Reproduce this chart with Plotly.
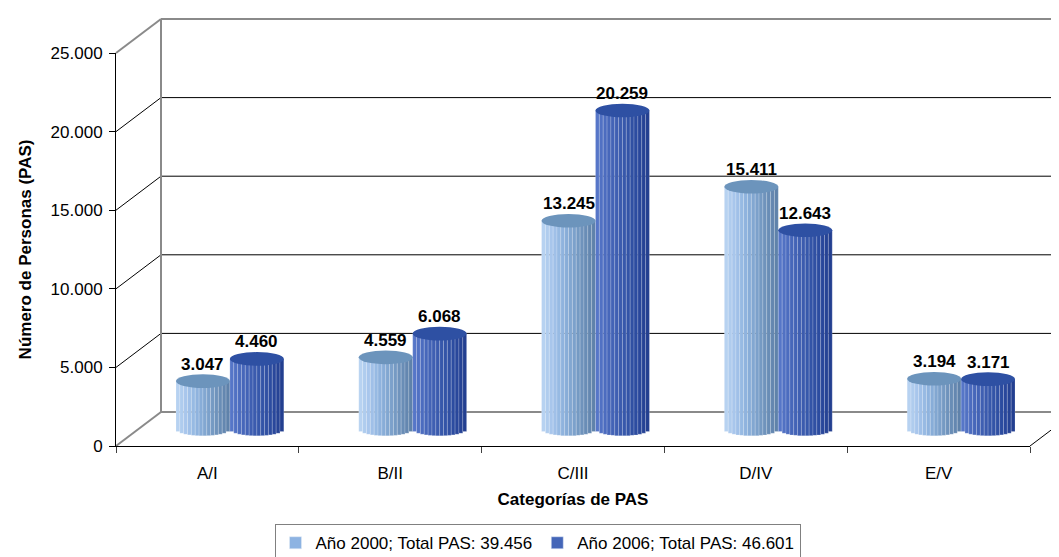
import numpy as np
import plotly.graph_objects as go

# ---------------- data ----------------
categories = ["A/I", "B/II", "C/III", "D/IV", "E/V"]
values_2000 = [3047, 4559, 13245, 15411, 3194]
values_2006 = [4460, 6068, 20259, 12643, 3171]
series_names = ["Año 2000; Total PAS: 39.456", "Año 2006; Total PAS: 46.601"]
y_ticks = [0, 5000, 10000, 15000, 20000, 25000]
x_title = "Categorías de PAS"
y_title = "Número de Personas (PAS)"

# ---------------- geometry / style ----------------
W, H = 1059, 557
ML, MR, MT, MB = 108, 37, 45, 119
PW, PH = W - ML - MR, H - MT - MB
YMAX = y_ticks[-1]
NCAT = len(categories)
CAT_PX = PW / NCAT
DEPTH_DX, DEPTH_DY = 45, 34          # px depth of the 3D box
BAR_W = 0.295                        # category units per cylinder
CAP_RX, CAP_RY = 27, 6.8             # px radii of the cylinder caps
NSTRIP = 14
FONT = "Liberation Sans, Arial, sans-serif"
FS = 17

grad_light = ["#B7D2F1", "#A3C3EA", "#8DB2DD", "#7DA2CC", "#6C90B9", "#5F82AA"]
grad_dark = ["#5676C8", "#4969BC", "#3E5EB1", "#3455A8", "#2B4A9E", "#233F90"]
cap_colors = ["#6C94BC", "#2E50A3"]
legend_colors = ["#8DB3E2", "#4466B8"]


def hex2rgb(h):
    h = h.lstrip("#")
    return np.array([int(h[i:i + 2], 16) for i in (0, 2, 4)], dtype=float)


def grad(stops, t):
    pos = t * (len(stops) - 1)
    i = min(int(pos), len(stops) - 2)
    f = pos - i
    c = (1 - f) * hex2rgb(stops[i]) + f * hex2rgb(stops[i + 1])
    return "rgb(%d,%d,%d)" % tuple(np.round(c))


fig = go.Figure()

# legend entries on the main (front) axes
for name, col in zip(series_names, legend_colors):
    fig.add_trace(go.Bar(x=[None], y=[None], name=name, marker_color=col,
                         xaxis="x", yaxis="y", hoverinfo="skip"))

# cylinders, drawn as vertical strips on the mid-depth axes (x2/y2)
xpos = list(range(NCAT))
v2u = YMAX / PH   # value units per pixel
for s, (vals, stops) in enumerate([(values_2000, grad_light), (values_2006, grad_dark)]):
    for k in range(NSTRIP):
        u = ((k + 0.5) / NSTRIP) * 2 - 1
        dip = CAP_RY * np.sqrt(max(0.0, 1 - u * u)) * v2u
        fig.add_trace(go.Bar(
            x=xpos, y=[v + dip for v in vals], base=[-dip] * NCAT,
            offset=(s - 1) * BAR_W + k * BAR_W / NSTRIP, width=BAR_W / NSTRIP,
            marker=dict(color=grad(stops, k / (NSTRIP - 1)),
                        line=dict(width=0.6, color="rgba(255,255,255,0.30)")),
            xaxis="x2", yaxis="y2", showlegend=False, hoverinfo="skip"))

shapes = []
# 3D box: back wall, left wall diagonals, floor (paper coordinates from tick values)
ddx, ddy = DEPTH_DX / PW, DEPTH_DY / PH
x_right = (W - ML) / PW + 0.01
edge = dict(color="#8A8A8A", width=2)
grid = dict(color="#000000", width=1)
for v in y_ticks:
    yv = v / YMAX
    is_edge = v in (y_ticks[0], y_ticks[-1])
    st = edge if is_edge else grid
    shapes.append(dict(type="line", xref="paper", yref="paper", x0=ddx, x1=x_right,
                       y0=yv + ddy, y1=yv + ddy, line=st, layer="below"))
    shapes.append(dict(type="line", xref="paper", yref="paper", x0=0, x1=ddx,
                       y0=yv, y1=yv + ddy, line=st, layer="below"))
shapes.append(dict(type="line", xref="paper", yref="paper", x0=ddx, x1=ddx,
                   y0=ddy, y1=1 + ddy, line=edge, layer="below"))
shapes.append(dict(type="line", xref="paper", yref="paper", x0=1, x1=1 + ddx,
                   y0=0, y1=ddy, line=grid, layer="below"))

# cylinder caps and value labels
annotations = []
for s, vals in enumerate([values_2000, values_2006]):
    for i, v in enumerate(vals):
        xc = i + (s - 0.5) * BAR_W
        shapes.append(dict(type="circle", xref="x2", yref="y2",
                           xsizemode="pixel", ysizemode="pixel",
                           xanchor=xc, yanchor=v,
                           x0=-CAP_RX, x1=CAP_RX, y0=-CAP_RY, y1=CAP_RY,
                           fillcolor=cap_colors[s], line=dict(width=0), layer="above"))
        annotations.append(dict(x=xc, y=v, xref="x2", yref="y2",
                                text="<b>" + f"{v:,}".replace(",", ".") + "</b>",
                                showarrow=False, yshift=17, yanchor="middle",
                                font=dict(family=FONT, size=FS, color="black")))

fig.update_layout(
    width=W, height=H,
    margin=dict(l=ML, r=MR, t=MT, b=MB, autoexpand=False),
    paper_bgcolor="white", plot_bgcolor="rgba(0,0,0,0)",
    separators=",.",
    barmode="overlay",
    font=dict(family=FONT, size=FS, color="black"),
    shapes=shapes, annotations=annotations,
    showlegend=True,
    legend=dict(orientation="h", xref="container", yref="container",
                x=0.5, xanchor="center", y=0.005, yanchor="bottom",
                bordercolor="#808080", borderwidth=1,
                font=dict(family=FONT, size=FS, color="black"),
                itemclick=False, itemdoubleclick=False),
    xaxis=dict(range=[-0.5, NCAT - 0.5], tickmode="array", tickvals=xpos,
               ticktext=categories, ticks="", showgrid=False, zeroline=False,
               showline=True, linecolor="black", linewidth=1,
               ticklabelstandoff=12, automargin=False,
               minor=dict(tickmode="array", tickvals=[i - 0.5 for i in range(NCAT + 1)],
                          ticks="outside", ticklen=6, tickcolor="#404040", showgrid=False),
               title=dict(text="<b>" + x_title + "</b>", standoff=10,
                          font=dict(family=FONT, size=FS)),
               fixedrange=True),
    yaxis=dict(range=[0, YMAX], tickmode="array", tickvals=y_ticks, tickformat=",d",
               ticks="outside", ticklen=6, tickcolor="black", showgrid=False,
               zeroline=False, showline=True, linecolor="black", linewidth=1,
               ticklabelstandoff=3, automargin=False,
               title=dict(text="<b>" + y_title + "</b>", standoff=14,
                          font=dict(family=FONT, size=FS)),
               fixedrange=True),
    xaxis2=dict(overlaying="x", visible=False,
                range=[-0.5 - (DEPTH_DX / 2) / CAT_PX, NCAT - 0.5 - (DEPTH_DX / 2) / CAT_PX]),
    yaxis2=dict(overlaying="y", visible=False,
                range=[-(DEPTH_DY / 2) * v2u, YMAX - (DEPTH_DY / 2) * v2u]),
)

fig.write_html("out.html")
